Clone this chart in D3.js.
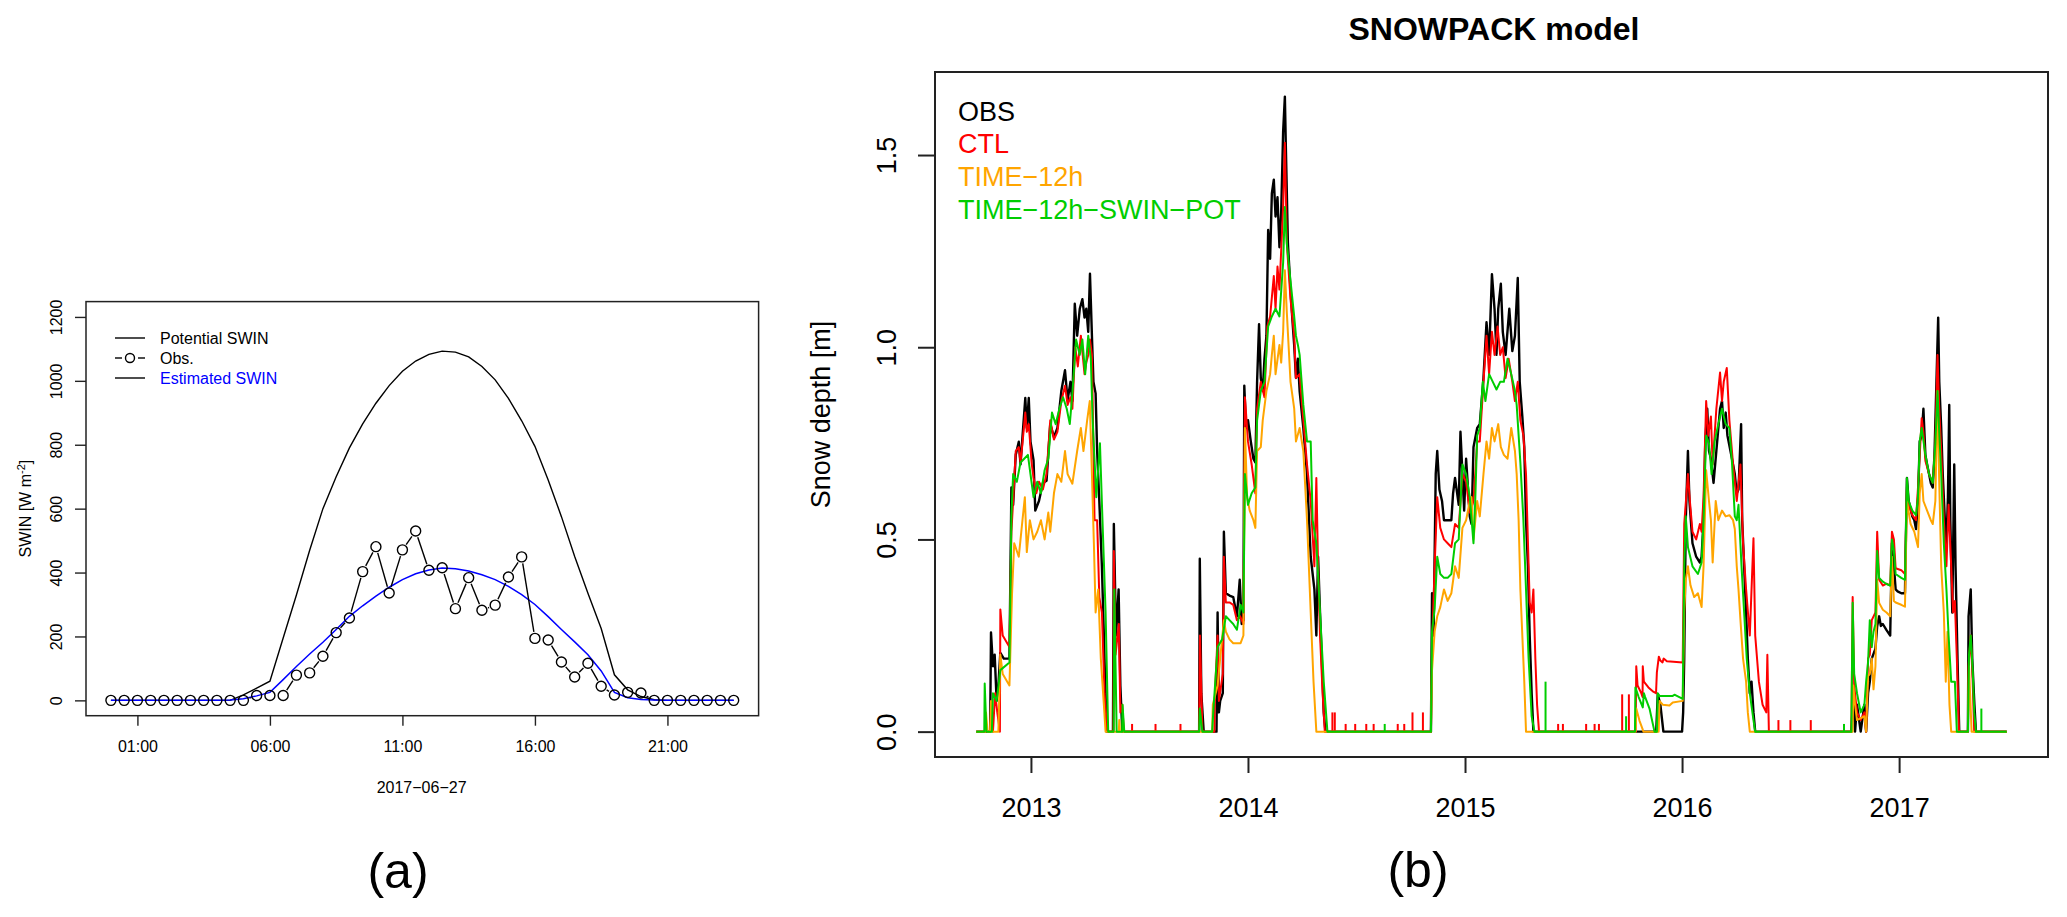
<!DOCTYPE html>
<html>
<head>
<meta charset="utf-8">
<script src="https://cdn.jsdelivr.net/npm/d3@7"></script>
<style>
    body { margin: 0; background: #fff; }
    svg { display: block; font-family: "Liberation Sans", Arial, Helvetica, sans-serif; }
</style>
</head>
<body>
<svg id="fig" width="2067" height="917"></svg>
<script>
// ---------- panel (a): incoming shortwave on 2017-06-27 ----------
var halfHours = ["00:00","00:30","01:00","01:30","02:00","02:30","03:00","03:30","04:00","04:30","05:00","05:30",
    "06:00","06:30","07:00","07:30","08:00","08:30","09:00","09:30","10:00","10:30","11:00","11:30",
    "12:00","12:30","13:00","13:30","14:00","14:30","15:00","15:30","16:00","16:30","17:00","17:30",
    "18:00","18:30","19:00","19:30","20:00","20:30","21:00","21:30","22:00","22:30","23:00","23:30"];

var swinPotential = [0,0,0,0,0,0,0,0,0,0,17,38,60,195,330,470,600,700,790,865,930,985,1030,1062,
    1083,1093,1090,1075,1045,1003,945,875,795,690,575,450,335,225,80,33,12,2,0,0,0,0,0,0];

var swinObs = [0,0,0,0,0,0,0,0,0,0,0,15,15,15,79,86,138,212,258,403,481,336,471,530,
    407,415,287,384,282,298,386,449,194,189,120,73,116,44,17,25,23,0,0,0,0,0,0,0];

var swinEstimated = [0,0,0,0,0,0,0,0,0,1,5,14,25,65,106,145,182,222,263,296,326,354,378,396,
    408,414,412,405,393,378,357,331,300,262,222,183,143,92,25,8,3,1,0,0,0,0,0,0];

var hourTicks = ["01:00", "06:00", "11:00", "16:00", "21:00"];
var swinTicks = [0, 200, 400, 600, 800, 1000, 1200];
var swinLegend = ["Potential SWIN", "Obs.", "Estimated SWIN"];

// ---------- panel (b): snow depth, [decimal year, metres] ----------
var yearTicks = [2013, 2014, 2015, 2016, 2017];
var depthTicks = [0, 0.5, 1.0, 1.5];
var seriesNames = ["OBS", "CTL", "TIME\u221212h", "TIME\u221212h\u2212SWIN\u2212POT"];
var seriesColors = ["#000000", "#ff0000", "#ffa500", "#00cd00"];

var obsDepth = [
    [2012.748,0],[2012.812,0],[2012.816,0.258],[2012.825,0.17],[2012.833,0.20],[2012.842,0.08],[2012.850,0.12],
    [2012.859,0.205],[2012.875,0.19],[2012.901,0.19],[2012.910,0.635],[2012.918,0.59],[2012.930,0.72],[2012.944,0.754],
    [2012.952,0.695],[2012.961,0.766],[2012.974,0.868],[2012.981,0.79],[2012.990,0.868],[2012.998,0.754],[2013.012,0.706],
    [2013.020,0.575],[2013.037,0.60],[2013.055,0.647],[2013.072,0.653],[2013.089,0.80],[2013.106,0.766],[2013.122,0.79],
    [2013.140,0.886],[2013.157,0.94],[2013.169,0.862],[2013.182,0.91],[2013.191,0.86],[2013.202,1.113],[2013.213,1.03],
    [2013.225,1.10],[2013.237,1.125],[2013.247,1.077],[2013.255,1.10],[2013.264,1.04],[2013.272,1.191],[2013.281,1.03],
    [2013.288,0.91],[2013.298,0.88],[2013.305,0.73],[2013.315,0.60],[2013.327,0.43],[2013.339,0.19],[2013.349,0],
    [2013.378,0],[2013.382,0.54],[2013.392,0.25],[2013.404,0.37],[2013.412,0.12],[2013.421,0],
    [2013.775,0],[2013.778,0.45],[2013.785,0.10],[2013.796,0],[2013.855,0],[2013.860,0.31],[2013.866,0.05],[2013.872,0.08],
    [2013.884,0.10],[2013.889,0.52],[2013.898,0.36],[2013.915,0.354],[2013.932,0.35],[2013.949,0.30],[2013.962,0.395],
    [2013.971,0.28],[2013.979,0.29],[2013.983,0.90],[2013.991,0.79],[2014.000,0.81],[2014.013,0.755],[2014.025,0.71],
    [2014.034,0.70],[2014.042,0.91],[2014.051,1.06],[2014.059,0.92],[2014.068,0.886],[2014.076,0.97],[2014.085,1.03],
    [2014.093,1.305],[2014.102,1.23],[2014.110,1.40],[2014.119,1.436],[2014.127,1.34],[2014.136,1.39],[2014.145,1.26],
    [2014.153,1.35],[2014.162,1.562],[2014.170,1.652],[2014.175,1.508],[2014.184,1.27],[2014.196,1.15],[2014.204,1.077],
    [2014.213,1.005],[2014.221,0.92],[2014.230,0.97],[2014.238,0.886],[2014.255,0.79],[2014.272,0.67],[2014.289,0.455],
    [2014.306,0.37],[2014.315,0.25],[2014.323,0.455],[2014.332,0.31],[2014.340,0.19],[2014.349,0.05],[2014.357,0],
    [2014.843,0],[2014.848,0.36],[2014.855,0.25],[2014.865,0.67],[2014.872,0.73],[2014.882,0.63],[2014.894,0.60],
    [2014.903,0.55],[2014.920,0.55],[2014.937,0.55],[2014.945,0.62],[2014.954,0.66],[2014.971,0.59],[2014.979,0.78],
    [2014.996,0.575],[2015.005,0.71],[2015.022,0.56],[2015.030,0.54],[2015.039,0.74],[2015.056,0.79],[2015.068,0.80],
    [2015.085,0.92],[2015.099,1.065],[2015.111,0.98],[2015.124,1.19],[2015.136,1.10],[2015.145,0.98],[2015.153,1.10],
    [2015.165,1.165],[2015.174,1.04],[2015.187,0.98],[2015.204,1.10],[2015.218,0.99],[2015.230,1.03],[2015.243,1.18],
    [2015.252,0.91],[2015.264,0.82],[2015.273,0.74],[2015.281,0.55],[2015.290,0.43],[2015.298,0.25],[2015.307,0.10],
    [2015.315,0],
    [2015.881,0],[2015.888,0.098],[2015.900,0.07],[2015.914,0],[2016.000,0],[2016.005,0.05],[2016.010,0.19],
    [2016.017,0.55],[2016.027,0.73],[2016.034,0.60],[2016.048,0.49],[2016.065,0.455],[2016.082,0.44],[2016.090,0.455],
    [2016.099,0.55],[2016.107,0.755],[2016.116,0.84],[2016.124,0.73],[2016.133,0.71],[2016.145,0.647],[2016.158,0.73],
    [2016.175,0.84],[2016.184,0.86],[2016.192,0.79],[2016.201,0.83],[2016.209,0.77],[2016.223,0.73],[2016.235,0.695],
    [2016.243,0.67],[2016.252,0.62],[2016.260,0.63],[2016.272,0.80],[2016.277,0.55],[2016.286,0.43],[2016.295,0.31],
    [2016.303,0.19],[2016.312,0.10],[2016.320,0.13],[2016.329,0.05],[2016.337,0],
    [2016.780,0],[2016.789,0.10],[2016.797,0],[2016.806,0.07],[2016.823,0],[2016.840,0.07],[2016.848,0],[2016.857,0.10],
    [2016.865,0.13],[2016.874,0.19],[2016.891,0.216],[2016.899,0.275],[2016.908,0.30],[2016.916,0.275],[2016.925,0.28],
    [2016.942,0.264],[2016.959,0.25],[2016.967,0.49],[2016.976,0.43],[2016.984,0.37],[2016.993,0.365],[2017.010,0.36],
    [2017.027,0.36],[2017.036,0.66],[2017.044,0.60],[2017.061,0.56],[2017.070,0.55],[2017.078,0.527],[2017.087,0.60],
    [2017.095,0.755],[2017.104,0.77],[2017.112,0.84],[2017.121,0.72],[2017.129,0.695],[2017.138,0.67],[2017.146,0.647],
    [2017.155,0.635],[2017.163,0.72],[2017.172,0.91],[2017.180,1.077],[2017.185,0.91],[2017.194,0.79],[2017.201,0.67],
    [2017.211,0.55],[2017.218,0.49],[2017.225,0.61],[2017.231,0.85],[2017.236,0.55],[2017.245,0.31],[2017.254,0.695],
    [2017.260,0.43],[2017.269,0.19],[2017.277,0],[2017.317,0],[2017.320,0.30],[2017.330,0.37],[2017.337,0.19],
    [2017.347,0.07],[2017.354,0],[2017.496,0]
];

var ctlDepth = [
    [2012.748,0],[2012.812,0],[2012.818,0.05],[2012.825,0],[2012.835,0.10],[2012.845,0.05],[2012.857,0],[2012.859,0.318],
    [2012.870,0.25],[2012.901,0.22],[2012.910,0.52],[2012.918,0.60],[2012.930,0.73],[2012.944,0.74],[2012.952,0.70],
    [2012.961,0.75],[2012.974,0.83],[2012.981,0.78],[2012.990,0.80],[2013.003,0.70],[2013.012,0.66],[2013.025,0.62],
    [2013.037,0.65],[2013.055,0.63],[2013.072,0.67],[2013.089,0.81],[2013.106,0.76],[2013.122,0.78],[2013.140,0.86],
    [2013.157,0.90],[2013.169,0.85],[2013.182,0.87],[2013.191,0.84],[2013.204,1.00],[2013.216,0.95],[2013.230,1.03],
    [2013.247,0.93],[2013.255,0.96],[2013.264,0.98],[2013.272,1.02],[2013.281,0.98],[2013.293,0.55],[2013.305,0.55],
    [2013.315,0.35],[2013.327,0.31],[2013.339,0.10],[2013.352,0],[2013.380,0],[2013.382,0.47],[2013.390,0.20],
    [2013.405,0.28],[2013.412,0.05],[2013.421,0.07],[2013.428,0],
    [2013.775,0],[2013.779,0.25],[2013.790,0],[2013.845,0],[2013.848,0.10],[2013.860,0.25],[2013.866,0.08],[2013.884,0.15],
    [2013.889,0.455],[2013.898,0.336],[2013.915,0.336],[2013.932,0.33],[2013.949,0.29],[2013.964,0.30],[2013.979,0.28],
    [2013.986,0.87],[2014.000,0.755],[2014.017,0.695],[2014.034,0.62],[2014.042,0.84],[2014.059,0.91],[2014.076,0.87],
    [2014.089,1.054],[2014.102,1.08],[2014.119,1.185],[2014.127,1.10],[2014.136,1.21],[2014.145,1.15],[2014.162,1.365],
    [2014.170,1.532],[2014.179,1.27],[2014.196,1.125],[2014.213,1.03],[2014.221,0.92],[2014.238,0.93],[2014.255,0.81],
    [2014.272,0.695],[2014.289,0.60],[2014.306,0.43],[2014.315,0.66],[2014.323,0.43],[2014.332,0.25],[2014.344,0.10],
    [2014.354,0],
    [2014.843,0],[2014.848,0.22],[2014.860,0.43],[2014.872,0.61],[2014.886,0.53],[2014.903,0.50],[2014.920,0.49],
    [2014.937,0.48],[2014.954,0.54],[2014.971,0.53],[2014.988,0.67],[2015.005,0.65],[2015.022,0.57],[2015.039,0.60],
    [2015.047,0.67],[2015.056,0.755],[2015.068,0.755],[2015.085,0.91],[2015.099,1.03],[2015.111,0.93],[2015.124,1.04],
    [2015.136,0.98],[2015.150,1.054],[2015.162,0.98],[2015.174,1.00],[2015.187,0.92],[2015.201,0.97],[2015.218,0.91],
    [2015.230,0.86],[2015.243,0.91],[2015.255,0.81],[2015.269,0.77],[2015.281,0.67],[2015.290,0.49],[2015.298,0.336],
    [2015.307,0.31],[2015.315,0.37],[2015.324,0.19],[2015.332,0.07],[2015.341,0],
    [2015.786,0],[2015.789,0.17],[2015.795,0.12],[2015.812,0.10],[2015.818,0.09],[2015.819,0.17],[2015.824,0.13],
    [2015.845,0.115],[2015.865,0.105],[2015.880,0.10],[2015.884,0.155],[2015.893,0.195],[2015.900,0.185],[2015.910,0.18],
    [2015.915,0.19],[2015.930,0.183],[2015.960,0.182],[2016.003,0.18],[2016.010,0.54],[2016.027,0.67],[2016.036,0.60],
    [2016.048,0.52],[2016.065,0.50],[2016.082,0.54],[2016.090,0.52],[2016.099,0.61],[2016.111,0.86],[2016.121,0.77],
    [2016.133,0.82],[2016.141,0.695],[2016.158,0.84],[2016.175,0.934],[2016.184,0.86],[2016.192,0.91],[2016.206,0.946],
    [2016.218,0.81],[2016.235,0.695],[2016.252,0.60],[2016.269,0.695],[2016.281,0.49],[2016.295,0.37],[2016.312,0.25],
    [2016.329,0.503],[2016.337,0.25],[2016.354,0.13],[2016.371,0.07],[2016.388,0.05],[2016.393,0.20],[2016.400,0],
    [2016.780,0],[2016.786,0.35],[2016.793,0.12],[2016.806,0.05],[2016.823,0.03],[2016.840,0.05],[2016.848,0],
    [2016.857,0.19],[2016.865,0.20],[2016.874,0.29],[2016.891,0.31],[2016.899,0.52],[2016.908,0.395],[2016.925,0.38],
    [2016.942,0.385],[2016.959,0.38],[2016.967,0.52],[2016.976,0.50],[2016.984,0.425],[2017.010,0.42],[2017.027,0.41],
    [2017.036,0.635],[2017.044,0.59],[2017.061,0.563],[2017.078,0.55],[2017.087,0.635],[2017.095,0.72],[2017.104,0.815],
    [2017.112,0.78],[2017.121,0.705],[2017.138,0.67],[2017.155,0.647],[2017.167,0.75],[2017.177,0.98],[2017.184,0.85],
    [2017.194,0.73],[2017.206,0.55],[2017.218,0.43],[2017.228,0.59],[2017.240,0.43],[2017.249,0.31],[2017.257,0.34],
    [2017.266,0.19],[2017.276,0],[2017.317,0],[2017.320,0.17],[2017.330,0.25],[2017.339,0.13],[2017.346,0],[2017.496,0]
];

var time12Depth = [
    [2012.748,0],[2012.790,0],[2012.793,0.05],[2012.800,0],[2012.812,0],[2012.816,0.08],[2012.822,0],[2012.850,0],
    [2012.859,0.20],[2012.870,0.15],[2012.901,0.12],[2012.913,0.36],[2012.923,0.49],[2012.944,0.455],[2012.961,0.55],
    [2012.972,0.61],[2012.981,0.467],[2012.995,0.55],[2013.012,0.50],[2013.029,0.52],[2013.046,0.55],[2013.063,0.50],
    [2013.080,0.57],[2013.089,0.52],[2013.106,0.62],[2013.122,0.67],[2013.140,0.65],[2013.157,0.73],[2013.169,0.67],
    [2013.191,0.645],[2013.213,0.73],[2013.230,0.79],[2013.242,0.73],[2013.259,0.81],[2013.271,0.86],[2013.281,0.67],
    [2013.290,0.49],[2013.298,0.31],[2013.310,0.37],[2013.322,0.19],[2013.336,0.07],[2013.344,0],[2013.405,0],
    [2013.407,0.03],[2013.410,0],
    [2013.835,0],[2013.838,0.07],[2013.860,0.12],[2013.889,0.29],[2013.898,0.26],[2013.915,0.24],[2013.932,0.23],
    [2013.949,0.23],[2013.966,0.23],[2013.979,0.25],[2013.986,0.79],[2013.996,0.61],[2014.008,0.575],[2014.025,0.55],
    [2014.034,0.53],[2014.042,0.73],[2014.059,0.74],[2014.068,0.81],[2014.085,0.886],[2014.102,0.93],[2014.110,0.98],
    [2014.119,1.03],[2014.127,0.93],[2014.145,1.006],[2014.153,0.96],[2014.162,1.04],[2014.170,1.20],[2014.179,1.09],
    [2014.196,0.91],[2014.213,0.84],[2014.221,0.755],[2014.238,0.79],[2014.255,0.73],[2014.272,0.55],[2014.289,0.31],
    [2014.302,0.13],[2014.315,0],
    [2014.843,0],[2014.848,0.16],[2014.860,0.26],[2014.872,0.30],[2014.886,0.324],[2014.903,0.37],[2014.920,0.34],
    [2014.937,0.36],[2014.954,0.43],[2014.971,0.40],[2014.988,0.53],[2015.005,0.55],[2015.022,0.60],[2015.030,0.61],
    [2015.039,0.50],[2015.056,0.60],[2015.068,0.56],[2015.085,0.67],[2015.099,0.755],[2015.111,0.71],[2015.124,0.79],
    [2015.136,0.755],[2015.153,0.80],[2015.165,0.74],[2015.179,0.72],[2015.196,0.71],[2015.213,0.79],[2015.230,0.73],
    [2015.238,0.67],[2015.247,0.55],[2015.255,0.37],[2015.264,0.25],[2015.273,0.13],[2015.281,0],
    [2015.786,0],[2015.789,0.06],[2015.804,0.028],[2015.819,0.005],[2015.822,0],[2015.892,0],[2015.896,0.08],
    [2015.911,0.07],[2015.942,0.068],[2015.957,0.076],[2016.003,0.08],[2016.010,0.31],[2016.017,0.395],[2016.027,0.43],
    [2016.039,0.38],[2016.056,0.35],[2016.073,0.36],[2016.090,0.324],[2016.099,0.43],[2016.111,0.68],[2016.124,0.60],
    [2016.133,0.55],[2016.141,0.44],[2016.155,0.60],[2016.167,0.55],[2016.184,0.575],[2016.201,0.56],[2016.218,0.563],
    [2016.235,0.55],[2016.243,0.527],[2016.252,0.43],[2016.260,0.37],[2016.269,0.29],[2016.281,0.19],[2016.295,0.13],
    [2016.303,0.05],[2016.312,0],
    [2016.786,0],[2016.789,0.12],[2016.797,0.07],[2016.806,0.03],[2016.840,0.04],[2016.848,0],[2016.857,0.145],
    [2016.865,0.15],[2016.874,0.19],[2016.882,0.11],[2016.891,0.17],[2016.899,0.395],[2016.908,0.335],[2016.925,0.317],
    [2016.942,0.31],[2016.959,0.30],[2016.967,0.455],[2016.976,0.34],[2016.984,0.336],[2017.010,0.33],[2017.027,0.325],
    [2017.036,0.60],[2017.053,0.54],[2017.070,0.52],[2017.087,0.48],[2017.095,0.62],[2017.104,0.67],[2017.112,0.60],
    [2017.129,0.575],[2017.146,0.55],[2017.155,0.54],[2017.167,0.60],[2017.177,0.886],[2017.184,0.67],[2017.194,0.43],
    [2017.206,0.31],[2017.215,0.13],[2017.223,0.26],[2017.232,0.07],[2017.240,0],[2017.317,0],[2017.322,0.17],
    [2017.327,0.10],[2017.334,0],[2017.496,0]
];

var swinPotDepth = [
    [2012.748,0],[2012.785,0],[2012.787,0.125],[2012.795,0],[2012.820,0],[2012.825,0.10],[2012.842,0.08],[2012.859,0.16],
    [2012.901,0.18],[2012.910,0.56],[2012.918,0.67],[2012.935,0.65],[2012.952,0.70],[2012.969,0.71],[2012.986,0.72],
    [2013.012,0.61],[2013.029,0.65],[2013.046,0.62],[2013.063,0.68],[2013.080,0.71],[2013.097,0.83],[2013.114,0.80],
    [2013.131,0.84],[2013.148,0.87],[2013.165,0.84],[2013.179,0.80],[2013.191,0.88],[2013.208,1.02],[2013.225,0.98],
    [2013.237,1.02],[2013.250,0.93],[2013.264,1.03],[2013.276,0.97],[2013.284,0.815],[2013.301,0.61],[2013.318,0.75],
    [2013.329,0.56],[2013.344,0.31],[2013.356,0],[2013.381,0],[2013.384,0.37],[2013.395,0],[2013.420,0],[2013.422,0.07],
    [2013.430,0],
    [2013.775,0],[2013.778,0.06],[2013.790,0],[2013.835,0],[2013.840,0.05],[2013.860,0.22],[2013.881,0.24],[2013.898,0.30],
    [2013.915,0.29],[2013.932,0.28],[2013.949,0.265],[2013.966,0.33],[2013.979,0.31],[2013.986,0.67],[2014.000,0.59],
    [2014.017,0.62],[2014.034,0.635],[2014.042,0.81],[2014.059,0.886],[2014.076,0.91],[2014.093,1.054],[2014.110,1.08],
    [2014.127,1.10],[2014.145,1.08],[2014.162,1.22],[2014.170,1.365],[2014.179,1.27],[2014.196,1.173],[2014.213,1.08],
    [2014.221,1.03],[2014.230,1.006],[2014.238,0.98],[2014.255,0.85],[2014.272,0.755],[2014.289,0.755],[2014.298,0.55],
    [2014.315,0.49],[2014.332,0.31],[2014.349,0.13],[2014.366,0],
    [2014.843,0],[2014.848,0.26],[2014.860,0.32],[2014.872,0.455],[2014.886,0.41],[2014.903,0.40],[2014.920,0.40],
    [2014.937,0.41],[2014.954,0.49],[2014.971,0.50],[2014.988,0.695],[2015.005,0.67],[2015.022,0.61],[2015.039,0.49],
    [2015.047,0.60],[2015.056,0.77],[2015.068,0.79],[2015.082,0.91],[2015.094,0.86],[2015.111,0.93],[2015.128,0.91],
    [2015.145,0.89],[2015.162,0.91],[2015.179,0.91],[2015.196,0.97],[2015.213,0.93],[2015.230,0.886],[2015.238,0.85],
    [2015.255,0.70],[2015.269,0.55],[2015.281,0.37],[2015.293,0.19],[2015.307,0.04],[2015.320,0],
    [2015.783,0],[2015.785,0.115],[2015.800,0.09],[2015.819,0.063],[2015.824,0.10],[2015.830,0.09],[2015.850,0.06],
    [2015.873,0],[2015.884,0],[2015.888,0.10],[2015.896,0.093],[2015.957,0.093],[2015.965,0.096],[2016.003,0.085],
    [2016.010,0.43],[2016.017,0.56],[2016.027,0.48],[2016.048,0.43],[2016.073,0.41],[2016.090,0.44],[2016.099,0.55],
    [2016.111,0.77],[2016.124,0.75],[2016.136,0.67],[2016.150,0.755],[2016.167,0.80],[2016.184,0.84],[2016.201,0.80],
    [2016.218,0.79],[2016.230,0.70],[2016.243,0.56],[2016.252,0.55],[2016.260,0.59],[2016.274,0.43],[2016.286,0.31],
    [2016.298,0.19],[2016.312,0.10],[2016.329,0.03],[2016.337,0],
    [2016.780,0],[2016.786,0.335],[2016.793,0.15],[2016.806,0.10],[2016.823,0.05],[2016.840,0.07],[2016.848,0.13],
    [2016.857,0.18],[2016.865,0.29],[2016.874,0.22],[2016.882,0.26],[2016.891,0.28],[2016.899,0.47],[2016.908,0.40],
    [2016.925,0.39],[2016.942,0.384],[2016.959,0.38],[2016.967,0.50],[2016.976,0.47],[2016.984,0.41],[2017.010,0.40],
    [2017.027,0.395],[2017.036,0.66],[2017.044,0.60],[2017.061,0.575],[2017.078,0.563],[2017.087,0.61],[2017.095,0.755],
    [2017.104,0.79],[2017.121,0.72],[2017.138,0.67],[2017.155,0.647],[2017.167,0.75],[2017.177,0.886],[2017.184,0.79],
    [2017.194,0.67],[2017.206,0.49],[2017.218,0.37],[2017.228,0.25],[2017.240,0.13],[2017.257,0.13],[2017.266,0],
    [2017.317,0],[2017.322,0.20],[2017.330,0.25],[2017.339,0.16],[2017.346,0.05],[2017.354,0],[2017.496,0]
];

// single-day blips during the snow-free summers
var ctlSpikes = [[2013.466,0.02],[2013.574,0.02],[2013.689,0.02],
    [2014.389,0.05],[2014.400,0.05],[2014.450,0.02],[2014.494,0.02],[2014.545,0.02],[2014.579,0.02],[2014.690,0.02],
    [2014.720,0.02],[2014.758,0.05],[2014.806,0.05],
    [2015.429,0.02],[2015.451,0.02],[2015.558,0.02],[2015.597,0.02],[2015.617,0.02],[2015.724,0.097],[2015.755,0.097],
    [2016.444,0.03],[2016.499,0.03],[2016.593,0.03]];
var swinPotSpikes = [[2014.630,0.02],[2015.371,0.13],[2015.742,0.04],[2016.746,0.02],[2017.379,0.06]];

var svg = d3.select("#fig");
var font = "'Liberation Sans', Arial, Helvetica, sans-serif";

/* ================= panel (a) ================= */
var a = { left: 86, right: 758.6, top: 301.6, bottom: 715.7 };

function toHour(s) {
    var p = s.split(":");
    return +p[0] + (+p[1]) / 60;
}
var hoursA = halfHours.map(toHour);

var xA = d3.scaleLinear().domain([-0.94, 24.44]).range([a.left, a.right]);
var yA = d3.scaleLinear().domain([-48, 1248]).range([a.bottom, a.top]);

var lineA = d3.line()
    .x(function (d, i) { return xA(hoursA[i]); })
    .y(function (d) { return yA(d); });

svg.append("path")
    .attr("d", lineA(swinPotential))
    .attr("fill", "none").attr("stroke", "#000").attr("stroke-width", 1.4);

svg.append("path")
    .attr("d", lineA(swinEstimated))
    .attr("fill", "none").attr("stroke", "#0000ff").attr("stroke-width", 1.5);

// observations: R type "b", segments stop short of the circles
var r = 5, gap = 6.5;
var obsPts = swinObs.map(function (v, i) { return [xA(hoursA[i]), yA(v)]; });
for (var i = 0; i < obsPts.length - 1; i++) {
    var p1 = obsPts[i], p2 = obsPts[i + 1];
    var dx = p2[0] - p1[0], dy = p2[1] - p1[1];
    var len = Math.sqrt(dx * dx + dy * dy);
    if (len <= 2 * gap + 1) continue;
    var ux = dx / len, uy = dy / len;
    svg.append("line")
        .attr("x1", p1[0] + ux * gap).attr("y1", p1[1] + uy * gap)
        .attr("x2", p2[0] - ux * gap).attr("y2", p2[1] - uy * gap)
        .attr("stroke", "#000").attr("stroke-width", 1.4);
}
svg.selectAll("circle.obs")
    .data(obsPts).enter().append("circle")
    .attr("class", "obs")
    .attr("cx", function (d) { return d[0]; })
    .attr("cy", function (d) { return d[1]; })
    .attr("r", r)
    .attr("fill", "none").attr("stroke", "#000").attr("stroke-width", 1.4);

// box
svg.append("rect")
    .attr("x", a.left).attr("y", a.top)
    .attr("width", a.right - a.left).attr("height", a.bottom - a.top)
    .attr("fill", "none").attr("stroke", "#222").attr("stroke-width", 1.5);

// axes
var gxA = svg.append("g")
    .attr("transform", "translate(0," + a.bottom + ")")
    .call(d3.axisBottom(xA)
        .tickValues(hourTicks.map(toHour))
        .tickFormat(function (d, i) { return hourTicks[i]; })
        .tickSize(10).tickSizeOuter(0));
gxA.select(".domain").remove();
gxA.selectAll("line").attr("stroke", "#222").attr("stroke-width", 1.4);
gxA.selectAll("text")
    .attr("y", 31).attr("dy", "0.35em")
    .attr("fill", "#000").style("font-size", "16px").style("font-family", font);

var gyA = svg.append("g")
    .attr("transform", "translate(" + a.left + ",0)")
    .call(d3.axisLeft(yA).tickValues(swinTicks).tickFormat(d3.format("d")).tickSize(11).tickSizeOuter(0));
gyA.select(".domain").remove();
gyA.selectAll("line").attr("stroke", "#222").attr("stroke-width", 1.4);
gyA.selectAll("text")
    .attr("transform", "rotate(-90)")
    .attr("x", 0).attr("y", -30).attr("dy", "0.35em")
    .style("text-anchor", "middle")
    .attr("fill", "#000").style("font-size", "16px").style("font-family", font);

// axis titles
svg.append("text")
    .attr("x", 421.6).attr("y", 787).attr("dy", "0.35em")
    .attr("text-anchor", "middle")
    .style("font-size", "16px")
    .text("2017\u221206\u221227");

var ylabA = svg.append("text")
    .attr("transform", "translate(25," + ((a.top + a.bottom) / 2) + ") rotate(-90)")
    .attr("dy", "0.35em")
    .attr("text-anchor", "middle")
    .style("font-size", "16px");
ylabA.append("tspan").text("SWIN [W m");
ylabA.append("tspan").attr("dy", -6).style("font-size", "11px").text("-2");
ylabA.append("tspan").attr("dy", 6).text("]");

// legend (a)
var legA = svg.append("g");
var legRowsA = [338, 358, 378];
legA.append("line").attr("x1", 115).attr("x2", 145).attr("y1", legRowsA[0]).attr("y2", legRowsA[0])
    .attr("stroke", "#000").attr("stroke-width", 1.4);
legA.append("line").attr("x1", 115).attr("x2", 122).attr("y1", legRowsA[1]).attr("y2", legRowsA[1])
    .attr("stroke", "#000").attr("stroke-width", 1.4);
legA.append("line").attr("x1", 138).attr("x2", 145).attr("y1", legRowsA[1]).attr("y2", legRowsA[1])
    .attr("stroke", "#000").attr("stroke-width", 1.4);
legA.append("circle").attr("cx", 130).attr("cy", legRowsA[1]).attr("r", 4.5)
    .attr("fill", "none").attr("stroke", "#000").attr("stroke-width", 1.4);
legA.append("line").attr("x1", 115).attr("x2", 145).attr("y1", legRowsA[2]).attr("y2", legRowsA[2])
    .attr("stroke", "#000").attr("stroke-width", 1.4);
legA.selectAll("text")
    .data(swinLegend).enter().append("text")
    .attr("x", 160)
    .attr("y", function (d, i) { return legRowsA[i]; })
    .attr("dy", "0.35em")
    .style("font-size", "16px")
    .attr("fill", function (d, i) { return i == 2 ? "#0000ff" : "#000"; })
    .text(function (d) { return d; });

svg.append("text")
    .attr("x", 398).attr("y", 888)
    .attr("text-anchor", "middle")
    .style("font-size", "50px")
    .text("(a)");

/* ================= panel (b) ================= */
var b = { left: 935, right: 2048, top: 72, bottom: 757 };

var xB = d3.scaleLinear().domain([2012.558, 2017.686]).range([b.left, b.right]);
var yB = d3.scaleLinear().domain([-0.066, 1.716]).range([b.bottom, b.top]);

var lineB = d3.line()
    .x(function (d) { return xB(d[0]); })
    .y(function (d) { return yB(d[1]); });

var allSeries = [obsDepth, ctlDepth, time12Depth, swinPotDepth];
var plotB = svg.append("g");

allSeries.forEach(function (s, k) {
    plotB.append("path")
        .attr("d", lineB(s))
        .attr("fill", "none")
        .attr("stroke", seriesColors[k])
        .attr("stroke-width", k == 0 ? 2.4 : 2)
        .attr("stroke-linejoin", "round");
    // summer blips drawn right after their own series
    var sp = k == 1 ? ctlSpikes : (k == 3 ? swinPotSpikes : []);
    plotB.selectAll("line.sp" + k)
        .data(sp).enter().append("line")
        .attr("class", "sp" + k)
        .attr("x1", function (d) { return xB(d[0]); })
        .attr("x2", function (d) { return xB(d[0]); })
        .attr("y1", yB(0))
        .attr("y2", function (d) { return yB(d[1]); })
        .attr("stroke", seriesColors[k]).attr("stroke-width", 2);
});

svg.append("rect")
    .attr("x", b.left).attr("y", b.top)
    .attr("width", b.right - b.left).attr("height", b.bottom - b.top)
    .attr("fill", "none").attr("stroke", "#222").attr("stroke-width", 2);

var gxB = svg.append("g")
    .attr("transform", "translate(0," + b.bottom + ")")
    .call(d3.axisBottom(xB).tickValues(yearTicks).tickFormat(d3.format("d")).tickSize(16).tickSizeOuter(0));
gxB.select(".domain").remove();
gxB.selectAll("line").attr("stroke", "#222").attr("stroke-width", 2);
gxB.selectAll("text")
    .attr("y", 51).attr("dy", "0.35em")
    .attr("fill", "#000").style("font-size", "27px").style("font-family", font);

var gyB = svg.append("g")
    .attr("transform", "translate(" + b.left + ",0)")
    .call(d3.axisLeft(yB).tickValues(depthTicks).tickFormat(d3.format(".1f")).tickSize(17).tickSizeOuter(0));
gyB.select(".domain").remove();
gyB.selectAll("line").attr("stroke", "#222").attr("stroke-width", 2);
gyB.selectAll("text")
    .attr("transform", "rotate(-90)")
    .attr("x", 0).attr("y", -48).attr("dy", "0.35em")
    .style("text-anchor", "middle")
    .attr("fill", "#000").style("font-size", "27px").style("font-family", font);

svg.append("text")
    .attr("transform", "translate(821," + ((b.top + b.bottom) / 2) + ") rotate(-90)")
    .attr("dy", "0.35em")
    .attr("text-anchor", "middle")
    .style("font-size", "27px")
    .text("Snow depth [m]");

svg.append("text")
    .attr("x", 1494).attr("y", 40)
    .attr("text-anchor", "middle")
    .style("font-size", "32px").style("font-weight", "bold")
    .text("SNOWPACK model");

svg.append("g").selectAll("text")
    .data(seriesNames).enter().append("text")
    .attr("x", 958)
    .attr("y", function (d, i) { return 120.5 + i * 32.9; })
    .style("font-size", "27px")
    .attr("fill", function (d, i) { return seriesColors[i]; })
    .text(function (d) { return d; });

svg.append("text")
    .attr("x", 1418).attr("y", 887)
    .attr("text-anchor", "middle")
    .style("font-size", "50px")
    .text("(b)");
</script>
</body>
</html>
